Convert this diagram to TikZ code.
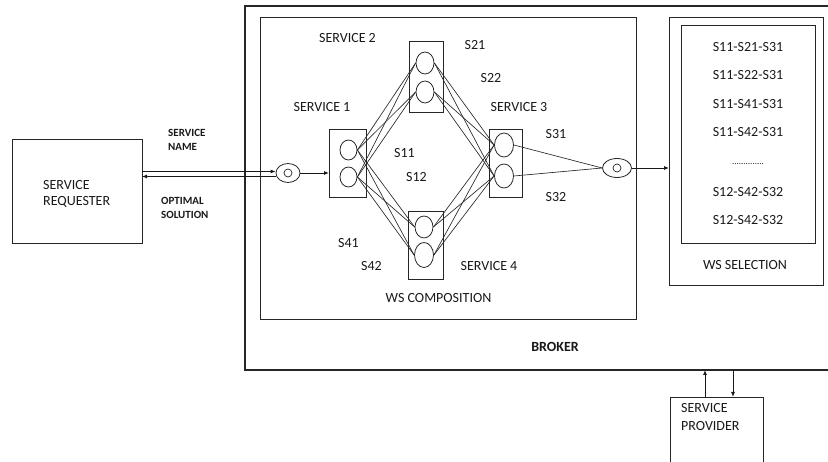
\documentclass[tikz,border=0pt]{standalone}
\usepackage{fontspec}
\setmainfont{Carlito}
\usepackage{tikz}
\usetikzlibrary{positioning,arrows.meta,shapes.geometric}

\begin{document}
\begin{tikzpicture}[
    x=1pt, y=-1pt,
    box/.style={rectangle, draw=black!85, line width=0.9pt, inner sep=0pt, outer sep=0pt},
    svc/.style={ellipse, draw=black!85, line width=0.8pt, inner sep=0pt, minimum width=18pt, minimum height=22pt},
    link/.style={draw=black!85, line width=0.65pt},
    arrow/.style={-{Latex[length=5pt,width=4pt]}, draw=black!90, line width=0.8pt},
    lbl/.style={font=\fontsize{14}{17}\selectfont, text=black!90, inner sep=0pt},
    tag/.style={font=\fontsize{11}{14}\selectfont\bfseries, text=black!90, inner sep=0pt, align=left}
]
\useasboundingbox (0,0) rectangle (828,462);

% -------- Outer boxes --------
\node[box, line width=1.3pt, minimum width=587pt, minimum height=364pt] (broker) at (538.5,188) {};
\node[box, minimum width=376pt, minimum height=302pt] (comp) at (448,168) {};
\node[box, minimum width=154pt, minimum height=268pt] (selout) at (746,151) {};
\node[box, minimum width=134pt, minimum height=218pt] (selin) at (748,134) {};

\node[box, minimum width=130pt, minimum height=104pt] (req) at (77,191) {};
\node[box, minimum width=93pt, minimum height=83pt] (prov) at (716.5,438.5) {};

% -------- Services --------
\node[box, minimum width=37pt, minimum height=68pt] (s1box) at (347.5,163) {};
\node[box, minimum width=34pt, minimum height=71pt] (s2box) at (426,76.5) {};
\node[box, minimum width=33pt, minimum height=68pt] (s3box) at (505.5,163) {};
\node[box, minimum width=35pt, minimum height=68pt] (s4box) at (425.5,245) {};

\node[svc, minimum width=17pt, minimum height=20pt] (s11) at (348.5,150) {};
\node[svc, minimum width=17pt, minimum height=20pt] (s12) at (348.5,177) {};
\node[svc] (s21) at (425,63) {};
\node[svc] (s22) at (425,92) {};
\node[svc, minimum width=19pt, minimum height=24pt] (s31) at (504,145) {};
\node[svc, minimum width=19pt, minimum height=24pt] (s32) at (504,176) {};
\node[svc] (s41) at (424,227) {};
\node[svc, minimum width=19pt, minimum height=25pt] (s42) at (424,255) {};

% -------- Input / output --------
\node[svc, minimum width=24pt, minimum height=19pt] (in) at (288,173) {};
\node[circle, draw=black!85, line width=0.7pt, minimum size=8pt, inner sep=0pt] (indot) at (in) {};
\node[svc, minimum width=29pt, minimum height=19pt] (out) at (617,168) {};
\node[circle, draw=black!85, line width=0.7pt, minimum size=8pt, inner sep=0pt] (outdot) at (out) {};

% -------- Labels --------
\node[lbl] (lserv1) at (322,107) {SERVICE 1};
\node[lbl] (lserv2) at (347.5,38) {SERVICE 2};
\node[lbl] (lserv3) at (519,107) {SERVICE 3};
\node[lbl] (lserv4) at (489,266) {SERVICE 4};
\node[lbl] (ls11) at (404.5,153) {S11};
\node[lbl] (ls12) at (416.5,177) {S12};
\node[lbl] (ls21) at (475,45) {S21};
\node[lbl] (ls22) at (491,78) {S22};
\node[lbl] (ls31) at (556,134) {S31};
\node[lbl] (ls32) at (556,197) {S32};
\node[lbl] (ls41) at (348.5,243) {S41};
\node[lbl] (ls42) at (371.5,266) {S42};
\node[lbl] (lcomp) at (438.5,298) {WS COMPOSITION};
\node[lbl, font=\fontsize{14}{17}\selectfont\bfseries] (lbroker) at (555,347) {BROKER};

\node[lbl, align=left, anchor=west, font=\fontsize{14}{16}\selectfont] (lreq) at (43,194) {SERVICE\\REQUESTER};
\node[lbl, align=left, anchor=west, font=\fontsize{14}{18}\selectfont] (lprov) at (681,417) {SERVICE\\PROVIDER};
\node[tag, anchor=west] (lname) at (168,139.5) {SERVICE\\NAME};
\node[tag, anchor=west] (lsol) at (161,207.5) {OPTIMAL\\SOLUTION};

% -------- Selection list --------
\node[lbl] (p1) at (748,47) {S11-S21-S31};
\node[lbl] (p2) at (748,75) {S11-S22-S31};
\node[lbl] (p3) at (748,104) {S11-S41-S31};
\node[lbl] (p4) at (748,132) {S11-S42-S31};
\node[lbl, font=\fontsize{9}{10}\selectfont] (pdots) at (748,164) {..............};
\node[lbl] (p6) at (748,192) {S12-S42-S32};
\node[lbl] (p7) at (748,220) {S12-S42-S32};
\node[lbl] (lsel) at (745,265) {WS SELECTION};

% -------- Links --------
\foreach \a in {s11,s12}
  \foreach \b in {s21,s22,s41,s42}
    \draw[link] (\a.east) -- (\b.west);
\foreach \a in {s21,s22,s41,s42}
  \foreach \b in {s31,s32}
    \draw[link] (\a.east) -- (\b.west);
\draw[link] (s31.east) -- (out.west);
\draw[link] (s32.east) -- (out.west);

% -------- Arrows --------
\draw[arrow] (req.east |- 0,171.5) -- (in.west |- 0,171.5);
\draw[arrow] (in.west |- 0,176.5) -- (req.east |- 0,176.5);
\draw[arrow] (in.east) -- (in.east -| s1box.west);
\draw[arrow] (out.east) -- (out.east -| selout.west);
\draw[arrow] (prov.north -| 705,0) -- (broker.south -| 705,0);
\draw[arrow] (broker.south -| 733,0) -- (prov.north -| 733,0);

\end{tikzpicture}
\end{document}
